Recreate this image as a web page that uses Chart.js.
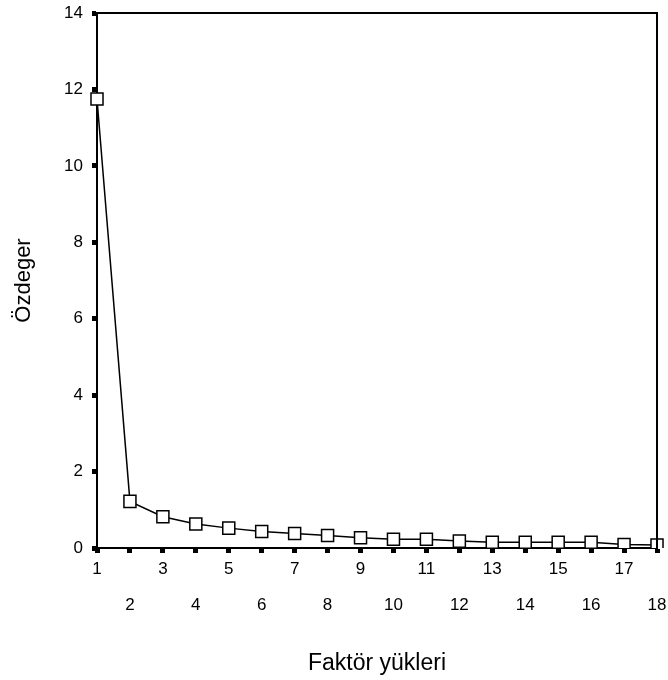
<!DOCTYPE html>
<html>
<head>
<meta charset="utf-8">
<script src="https://cdn.jsdelivr.net/npm/chart.js@4"></script>
<style>
  body { margin: 0; background: #fff; }
  canvas { display: block; }
</style>
</head>
<body>
<canvas id="chart" width="668" height="680"></canvas>
<script>
const factors = ['1','2','3','4','5','6','7','8','9','10','11','12','13','14','15','16','17','18'];
const eigenvalues = [11.75, 1.22, 0.82, 0.63, 0.52, 0.43, 0.38, 0.33, 0.27, 0.23, 0.23, 0.18, 0.15, 0.15, 0.15, 0.15, 0.09, 0.08];
const yTicks = [0, 2, 4, 6, 8, 10, 12, 14];

const ctx = document.getElementById('chart').getContext('2d');

// full box around the plot area
const frame = {
    id: 'frame',
    afterDraw(chart) {
        const a = chart.chartArea;
        const c = chart.ctx;
        c.save();
        c.strokeStyle = '#000';
        c.lineWidth = 2;
        c.beginPath();
        c.moveTo(a.left, a.top);
        c.lineTo(a.right, a.top);
        c.lineTo(a.right, a.bottom);
        c.stroke();
        c.restore();
    }
};

const fontFamily = '"Liberation Sans", Arial, sans-serif';

const chart = new Chart(ctx, {
    type: 'line',
    data: {
        labels: factors,
        datasets: [{
            data: eigenvalues,
            borderColor: '#000',
            borderWidth: 1.5,
            pointStyle: 'rect',
            pointRadius: 8.5,
            pointBackgroundColor: '#fff',
            pointBorderColor: '#000',
            pointBorderWidth: 1.5,
            tension: 0
        }]
    },
    options: {
        responsive: false,
        animation: false,
        layout: { padding: { top: 13, right: 11, left: 0, bottom: 0 } },
        plugins: {
            legend: { display: false },
            tooltip: { enabled: false }
        },
        scales: {
            x: {
                type: 'category',
                offset: false,
                afterFit(scale) { scale.height = 132; },
                border: { color: '#000', width: 2 },
                grid: { drawOnChartArea: false, offset: false, tickLength: 5, tickWidth: 5, tickColor: '#000' },
                ticks: {
                    autoSkip: false,
                    maxRotation: 0,
                    padding: -1,
                    color: '#000',
                    font: { family: fontFamily, size: 17, lineHeight: 2.09 },
                    callback(value, index) {
                        const lbl = factors[index];
                        return index % 2 === 0 ? [lbl, ''] : ['', lbl];
                    }
                },
                title: {
                    display: true,
                    text: 'Faktör yükleri',
                    color: '#000',
                    font: { family: fontFamily, size: 23 },
                    padding: { top: 0, bottom: 3 }
                }
            },
            y: {
                min: 0,
                max: 14,
                afterFit(scale) {
                    scale.width = 97;
                    scale.paddingTop = 0;
                    scale.paddingBottom = 0;
                },
                afterBuildTicks(scale) { scale.ticks = yTicks.map(v => ({ value: v })); },
                border: { color: '#000', width: 2 },
                grid: { drawOnChartArea: false, tickLength: 5, tickWidth: 5, tickColor: '#000' },
                ticks: {
                    padding: 9,
                    color: '#000',
                    font: { family: fontFamily, size: 17 }
                },
                title: {
                    display: true,
                    text: 'Özdeger',
                    color: '#000',
                    font: { family: fontFamily, size: 22 },
                    padding: { top: 11, bottom: 0 }
                }
            }
        }
    },
    plugins: [frame]
});
</script>
</body>
</html>
